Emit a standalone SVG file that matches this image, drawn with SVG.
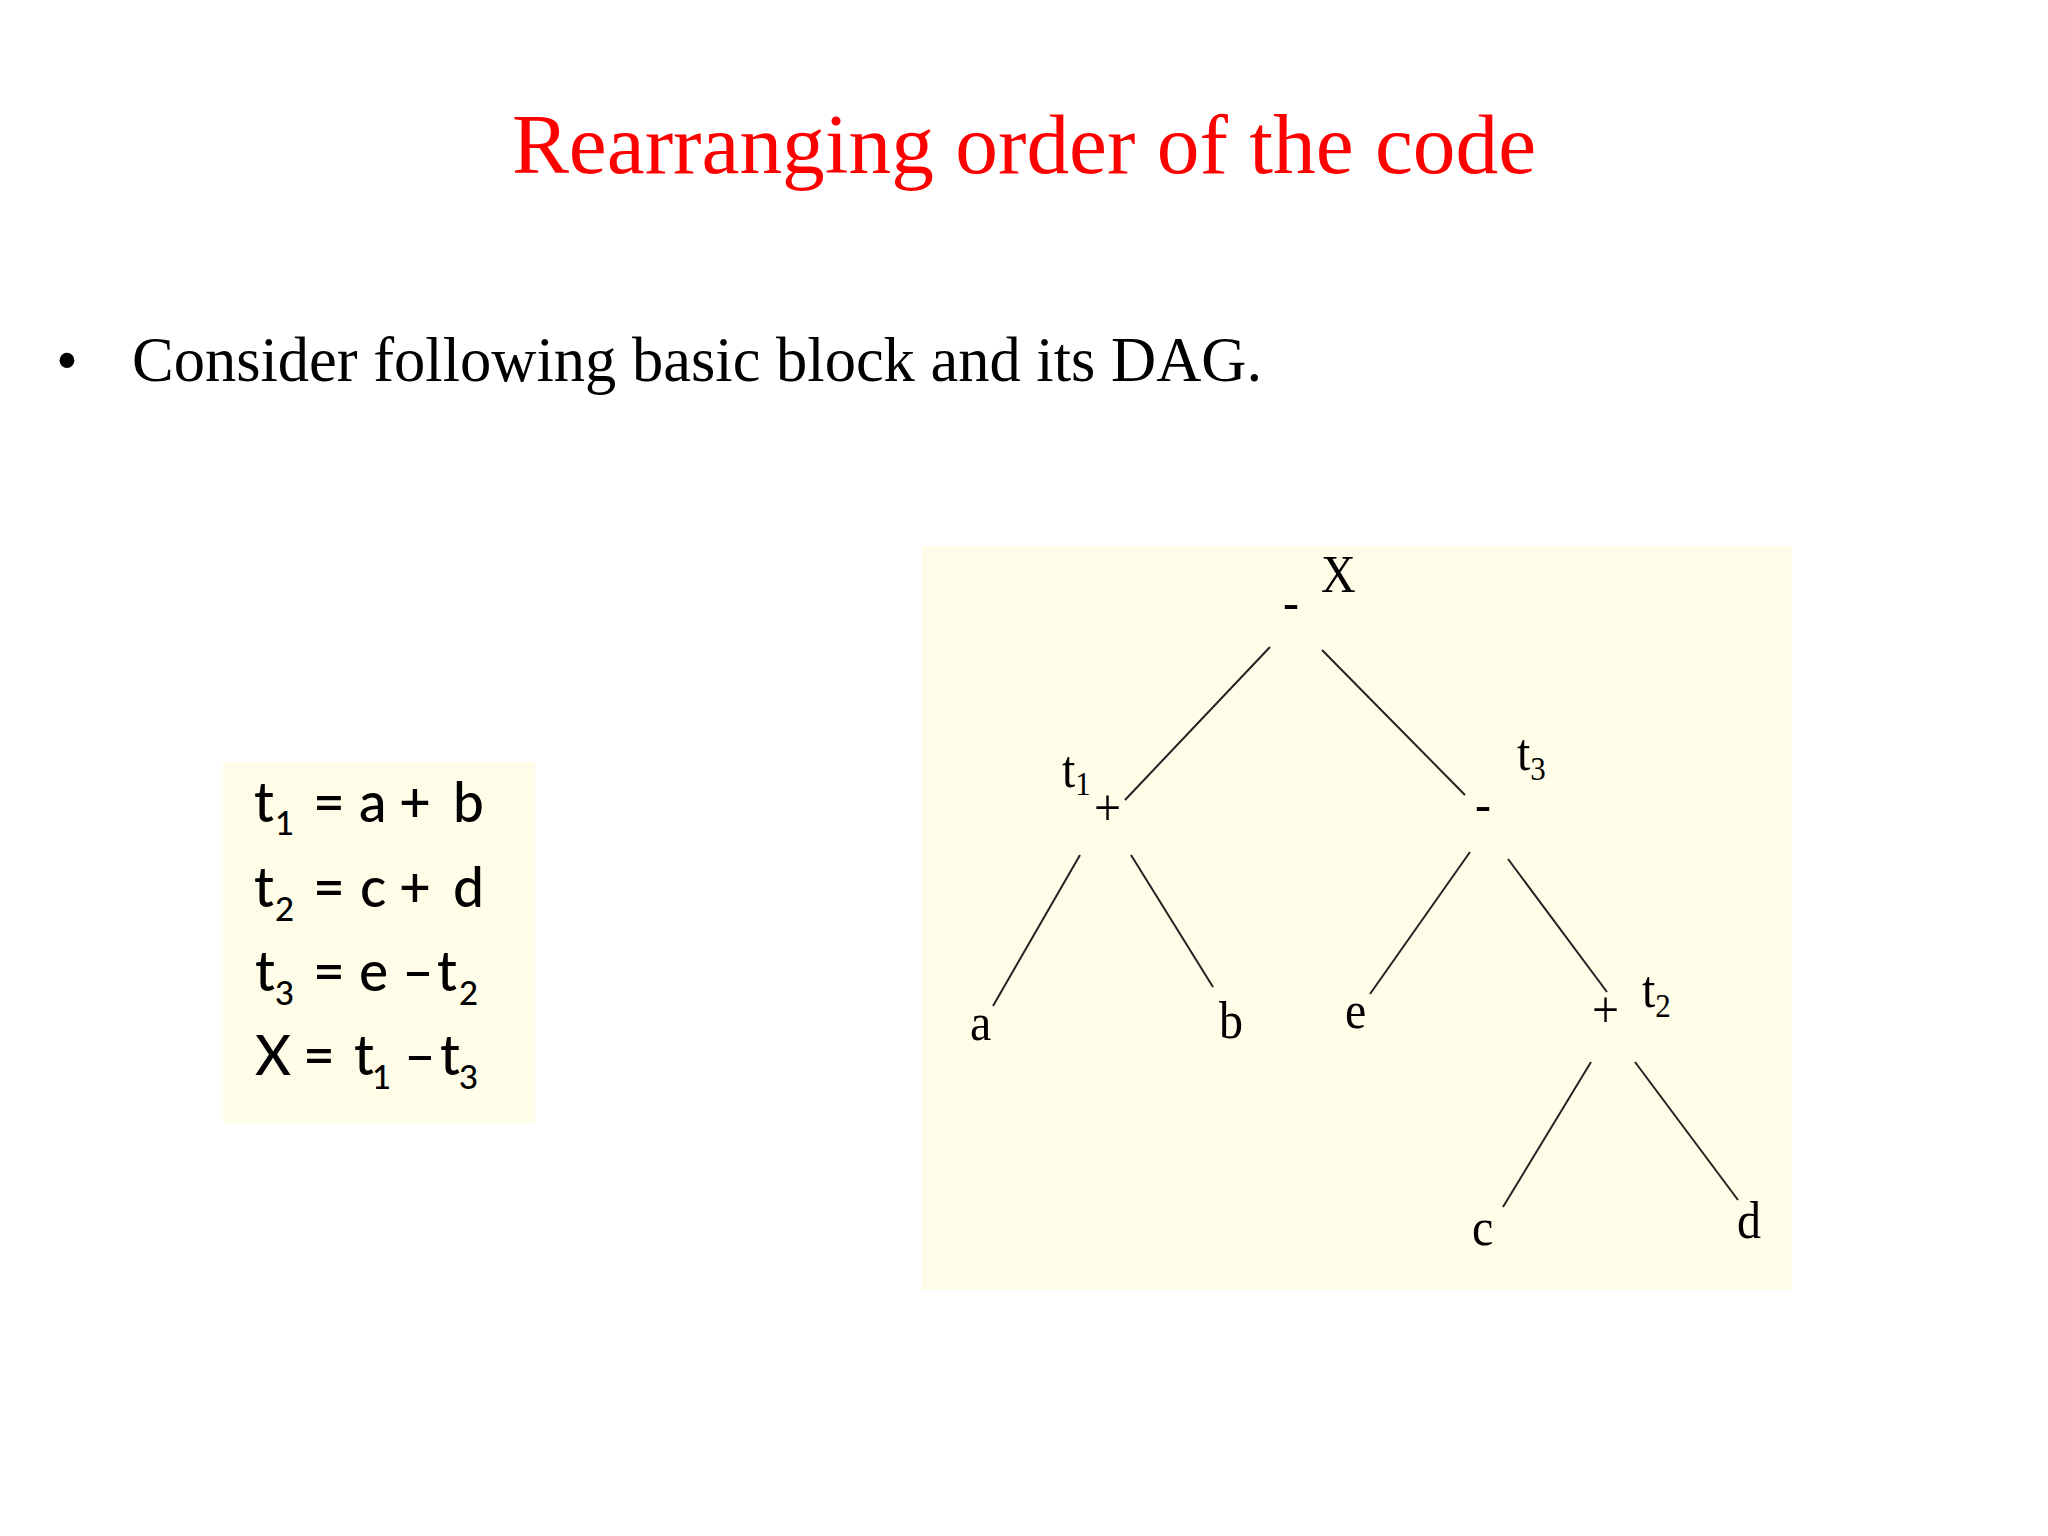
<svg xmlns="http://www.w3.org/2000/svg" width="2048" height="1536" viewBox="0 0 2048 1536">
<style>
.title{font-family:"Liberation Serif","Times New Roman",serif;font-size:85.4px;fill:#ff0000}
.body{font-family:"Liberation Serif","Times New Roman",serif;font-size:62.5px;fill:#000}
.code{font-family:Lato,"Open Sans","Liberation Sans",sans-serif;font-size:55px;fill:#000;font-weight:500}
.csub{font-size:33px}
.lbl{font-family:"Liberation Serif","Times New Roman",serif;font-size:48px;fill:#000}
.lsub{font-size:31px}
.box{fill:#fffde7}
.edge{stroke:#222;stroke-width:2;fill:none}
</style>
<rect width="2048" height="1536" fill="#ffffff"/>
<g id="title"><text class="title" x="1024" y="173" text-anchor="middle">Rearranging order of the code</text></g>
<g id="bullet">
<text class="body" x="56" y="381">•</text>
<text class="body" x="132" y="381">Consider following basic block and its DAG.</text>
</g>
<g id="code-block">
<rect class="box" x="223" y="762" width="312" height="361"/>
<text class="code" y="822"><tspan x="254">t</tspan><tspan class="csub" x="275" dy="13">1</tspan><tspan x="313" dy="-13">=</tspan><tspan x="359">a</tspan><tspan x="399">+</tspan><tspan x="453">b</tspan></text>
<text class="code" y="907"><tspan x="254">t</tspan><tspan class="csub" x="275" dy="14">2</tspan><tspan x="313" dy="-14">=</tspan><tspan x="360">c</tspan><tspan x="399">+</tspan><tspan x="453">d</tspan></text>
<text class="code" y="991"><tspan x="255">t</tspan><tspan class="csub" x="275" dy="14">3</tspan><tspan x="313" dy="-14">=</tspan><tspan x="359">e</tspan><tspan x="402">–</tspan><tspan x="437">t</tspan><tspan class="csub" x="459" dy="14">2</tspan></text>
<text class="code" y="1075"><tspan x="255">X</tspan><tspan x="303">=</tspan><tspan x="354">t</tspan><tspan class="csub" x="372" dy="14">1</tspan><tspan x="404" dy="-14">–</tspan><tspan x="440">t</tspan><tspan class="csub" x="459" dy="14">3</tspan></text>
</g>
<g id="dag-panel"><rect class="box" x="922" y="546" width="870" height="744"/></g>
<g id="connectors">
<line class="edge" x1="1270" y1="647" x2="1125" y2="800"/>
<line class="edge" x1="1322" y1="650" x2="1465" y2="795"/>
<line class="edge" x1="1080" y1="855" x2="993" y2="1006"/>
<line class="edge" x1="1131" y1="855" x2="1213" y2="987"/>
<line class="edge" x1="1470" y1="852" x2="1370" y2="994"/>
<line class="edge" x1="1508" y1="859" x2="1607" y2="992"/>
<line class="edge" x1="1591" y1="1062" x2="1503" y2="1207"/>
<line class="edge" x1="1635" y1="1062" x2="1738" y2="1200"/>
</g>
<g id="node-root">
<text class="lbl" transform="translate(1283,620) scale(1,1.12)">-</text>
<text class="lbl" transform="translate(1321,592) scale(1,1.12)">X</text>
</g>
<g id="node-t1">
<text class="lbl" transform="translate(1062,787) scale(1,1.12)">t<tspan class="lsub" dy="7">1</tspan></text>
<text class="lbl" transform="translate(1094,825) scale(1,1.12)">+</text>
</g>
<g id="node-t3">
<text class="lbl" transform="translate(1517,770) scale(1,1.12)">t<tspan class="lsub" dy="9">3</tspan></text>
<text class="lbl" transform="translate(1475,822) scale(1,1.12)">-</text>
</g>
<g id="node-a"><text class="lbl" transform="translate(970,1040) scale(1,1.12)">a</text></g>
<g id="node-b"><text class="lbl" transform="translate(1219,1038) scale(1,1.12)">b</text></g>
<g id="node-e"><text class="lbl" transform="translate(1345,1028) scale(1,1.12)">e</text></g>
<g id="node-t2">
<text class="lbl" transform="translate(1592,1027) scale(1,1.12)">+</text>
<text class="lbl" transform="translate(1642,1007) scale(1,1.12)">t<tspan class="lsub" dy="9">2</tspan></text>
</g>
<g id="node-c"><text class="lbl" transform="translate(1472,1245) scale(1,1.12)">c</text></g>
<g id="node-d"><text class="lbl" transform="translate(1737,1238) scale(1,1.12)">d</text></g>
</svg>
